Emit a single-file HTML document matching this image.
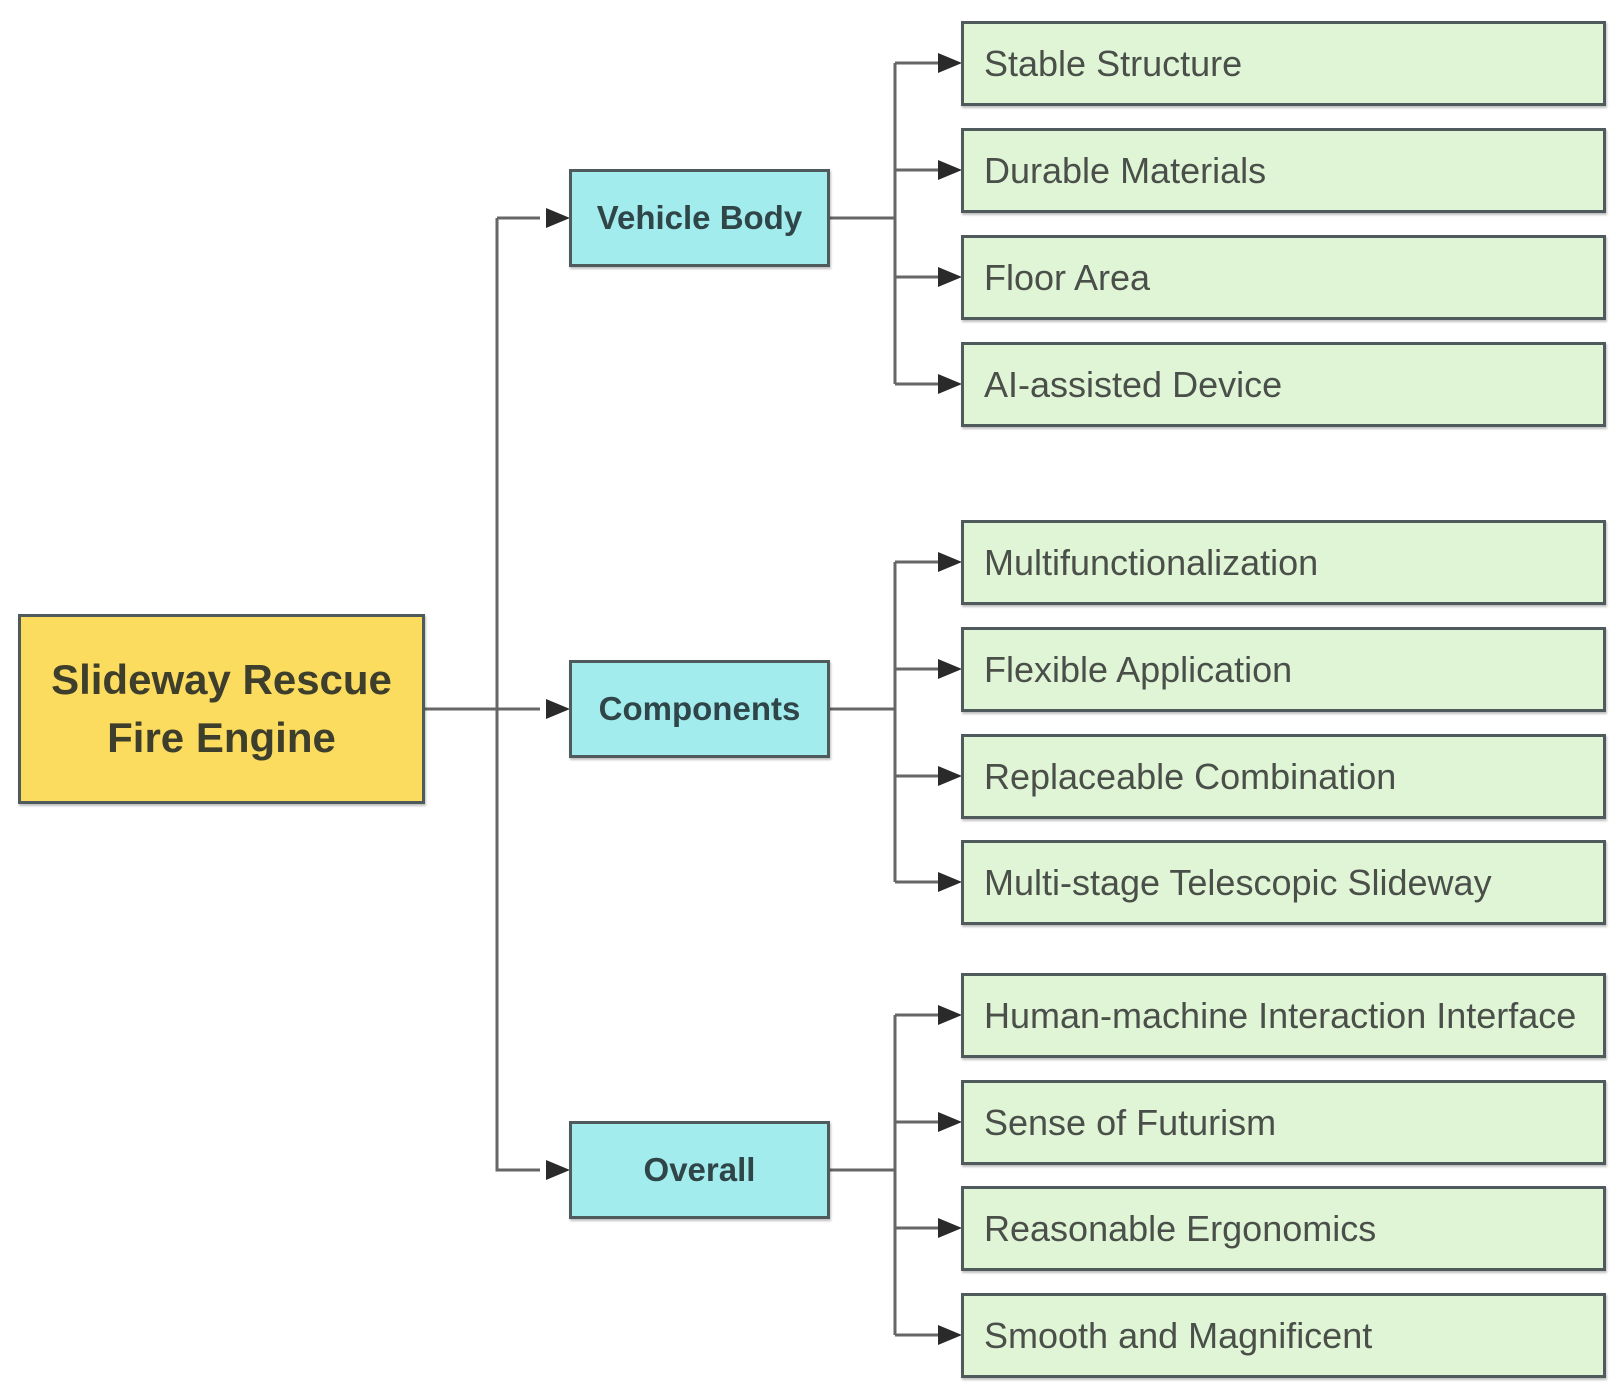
<!DOCTYPE html>
<html><head><meta charset="utf-8"><style>
body{margin:0;width:1623px;height:1400px;background:#fff;position:relative;overflow:hidden;font-family:"Liberation Sans",sans-serif}
.b{position:absolute;box-sizing:border-box;border:3px solid #4f5a5c;box-shadow:1px 2px 2px rgba(0,0,0,.25);display:flex;align-items:center}
.r{background:#fbdc5e;justify-content:center;text-align:center;font-weight:bold;font-size:42px;line-height:58px;color:#3e3e2c}
.m{background:#a2ecee;justify-content:center;font-weight:bold;font-size:33px;color:#2f4548}
.l{background:#e0f5d6;font-size:36px;color:#4a4f4a;padding-left:20px}
svg{position:absolute;left:0;top:0}
</style></head><body>
<svg width="1623" height="1400">
<g stroke="#666" stroke-width="3" fill="none">
<path d="M424 709H540M497 218V1170H540M497 218H540"/>
<path d="M829 218H895M829 709H895M829 1170H895"/>
<path d="M895 63V384M895 63H945M895 170H945M895 277H945M895 384H945"/>
<path d="M895 562V882M895 562H945M895 669H945M895 776H945M895 882H945"/>
<path d="M895 1015V1335M895 1015H945M895 1122H945M895 1228H945M895 1335H945"/>
</g>
<g fill="#2a2a2a">
<path d="M570 218l-24-10v20z M570 709l-24-10v20z M570 1170l-24-10v20z"/>
<path d="M962 63l-24-10v20zM962 170l-24-10v20zM962 277l-24-10v20zM962 384l-24-10v20z"/>
<path d="M962 562l-24-10v20zM962 669l-24-10v20zM962 776l-24-10v20zM962 882l-24-10v20z"/>
<path d="M962 1015l-24-10v20zM962 1122l-24-10v20zM962 1228l-24-10v20zM962 1335l-24-10v20z"/>
</g>
</svg>
<div class="b r" style="left:18px;top:614px;width:407px;height:190px">Slideway Rescue<br>Fire Engine</div>
<div class="b m" style="left:569px;top:169px;width:261px;height:98px">Vehicle Body</div>
<div class="b m" style="left:569px;top:660px;width:261px;height:98px">Components</div>
<div class="b m" style="left:569px;top:1121px;width:261px;height:98px">Overall</div>
<div class="b l" style="left:961px;top:21px;width:645px;height:85px">Stable Structure</div>
<div class="b l" style="left:961px;top:128px;width:645px;height:85px">Durable Materials</div>
<div class="b l" style="left:961px;top:235px;width:645px;height:85px">Floor Area</div>
<div class="b l" style="left:961px;top:342px;width:645px;height:85px">AI-assisted Device</div>
<div class="b l" style="left:961px;top:520px;width:645px;height:85px">Multifunctionalization</div>
<div class="b l" style="left:961px;top:627px;width:645px;height:85px">Flexible Application</div>
<div class="b l" style="left:961px;top:734px;width:645px;height:85px">Replaceable Combination</div>
<div class="b l" style="left:961px;top:840px;width:645px;height:85px">Multi-stage Telescopic Slideway</div>
<div class="b l" style="left:961px;top:973px;width:645px;height:85px">Human-machine Interaction Interface</div>
<div class="b l" style="left:961px;top:1080px;width:645px;height:85px">Sense of Futurism</div>
<div class="b l" style="left:961px;top:1186px;width:645px;height:85px">Reasonable Ergonomics</div>
<div class="b l" style="left:961px;top:1293px;width:645px;height:85px">Smooth and Magnificent</div>
</body></html>
